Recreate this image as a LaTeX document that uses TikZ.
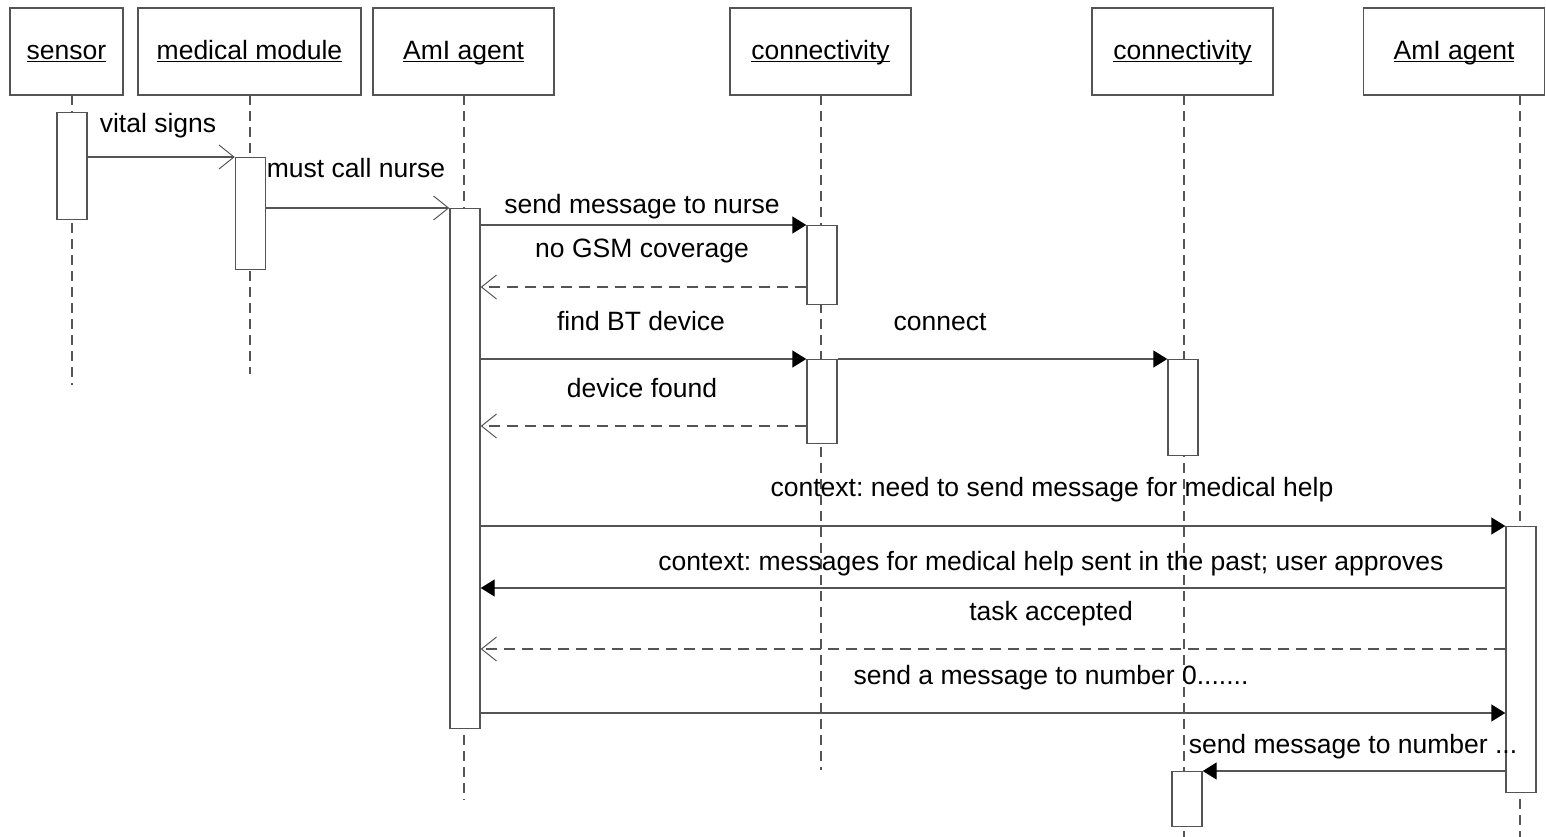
\documentclass[tikz,border=0pt]{standalone}
\usepackage{fontspec}
\setmainfont{Liberation Sans}
\usetikzlibrary{arrows.meta}
\definecolor{linegray}{gray}{0.33}
\newcommand{\uname}[1]{\setbox0\hbox{#1}\rlap{\rule[-3pt]{\wd0}{1.6pt}}\box0}
\frenchspacing

\begin{document}
\begin{tikzpicture}[x=1pt,y=-1pt,font=\fontsize{26.5}{30}\selectfont]
        \tikzset{head/.style={draw=linegray,line width=1.4pt,minimum height=87pt,inner sep=0pt,
                text height=19pt,text depth=3pt},
            bar/.style={draw=linegray,fill=white,line width=1.4pt,minimum width=30pt,anchor=north,inner sep=0pt},
            life/.style={draw=linegray,line width=1.4pt,dash pattern=on 10pt off 6pt},
            call/.style={draw=linegray,line width=1.4pt,-{Triangle[length=14pt,width=17pt,color=black]}},
            async/.style={draw=linegray,line width=1.4pt,-{Straight Barb[length=15pt,width=24pt,line width=1pt]}},
            reply/.style={async,dash pattern=on 11pt off 7pt},
            lbl/.style={anchor=base,inner sep=0pt}}
        \useasboundingbox (0,0) rectangle (1546,837);

        \node[head,minimum width=113pt] (sensor) at (66.5,51.5) {\uname{sensor}};
        \node[head,minimum width=223pt] (medical) at (249.5,51.5) {\uname{medical module}};
        \node[head,minimum width=181pt] (agent) at (463.5,51.5) {\uname{AmI agent}};
        \node[head,minimum width=181pt] (gsm) at (820.5,51.5) {\uname{connectivity}};
        \node[head,minimum width=181pt] (bt) at (1182.5,51.5) {\uname{connectivity}};
        \node[head,minimum width=181pt] (remote) at (1454,51.5) {\uname{AmI agent}};

        \foreach \x/\y in {72/385, 250/374, 464/800, 821/770, 1184/837, 1520/837}
            \draw[life] (\x,95) -- (\x,\y);

        \node[bar,minimum height=107pt] (sensbar) at (72,112) {};
        \node[bar,minimum height=112pt] (medbar) at (250.5,157) {};
        \node[bar,minimum height=520pt] (agtbar) at (465,208) {};
        \node[bar,minimum height=79pt] (conbar) at (822,225) {};
        \node[bar,minimum height=84pt] (finbar) at (822,359) {};
        \node[bar,minimum height=96pt] (linkbar) at (1183,359) {};
        \node[bar,minimum height=266pt] (helpbar) at (1521,526) {};
        \node[bar,minimum height=55pt] (smsbar) at (1187,771) {};

        \draw[async] (sensbar.east |- medbar.north) -- (medbar.north west);
        \draw[async] (medbar.east |- agtbar.north) -- (agtbar.north west);
        \draw[call] (agtbar.east |- conbar.north) -- (conbar.north west);
        \draw[reply] (conbar.west |- 0,287) -- (agtbar.east |- 0,287);
        \draw[call] (agtbar.east |- finbar.north) -- (finbar.north west);
        \draw[call] (finbar.north east) -- (linkbar.north west);
        \draw[reply] (finbar.west |- 0,426) -- (agtbar.east |- 0,426);
        \draw[call] (agtbar.east |- helpbar.north) -- (helpbar.north west);
        \draw[call] (helpbar.west |- 0,588) -- (agtbar.east |- 0,588);
        \draw[reply] (helpbar.west |- 0,649) -- (agtbar.east |- 0,649);
        \draw[call] (agtbar.east |- 0,713) -- (helpbar.west |- 0,713);
        \draw[call] (helpbar.west |- smsbar.north) -- (smsbar.north east);

        \node[lbl] (vital) at (158,133) {vital signs};
        \node[lbl] (nurse) at (356,178) {must call nurse};
        \node[lbl] (tonurse) at (642,213) {send message to nurse};
        \node[lbl] (nogsm) at (642,257) {no GSM coverage};
        \node[lbl] (findbt) at (641,330) {find BT device};
        \node[lbl] (connect) at (940,330) {connect};
        \node[lbl] (found) at (642,397) {device found};
        \node[lbl] (need) at (1052,496) {context: need to send message for medical help};
        \node[lbl] (past) at (1051,570) {context: messages for medical help sent in the past; user approves};
        \node[lbl] (accepted) at (1051,620) {task accepted};
        \node[lbl] (tonumber) at (1051,684) {send a message to number 0.......};
        \node[lbl] (smsnumber) at (1353,753) {send message to number ...};
    \end{tikzpicture}
\end{document}
